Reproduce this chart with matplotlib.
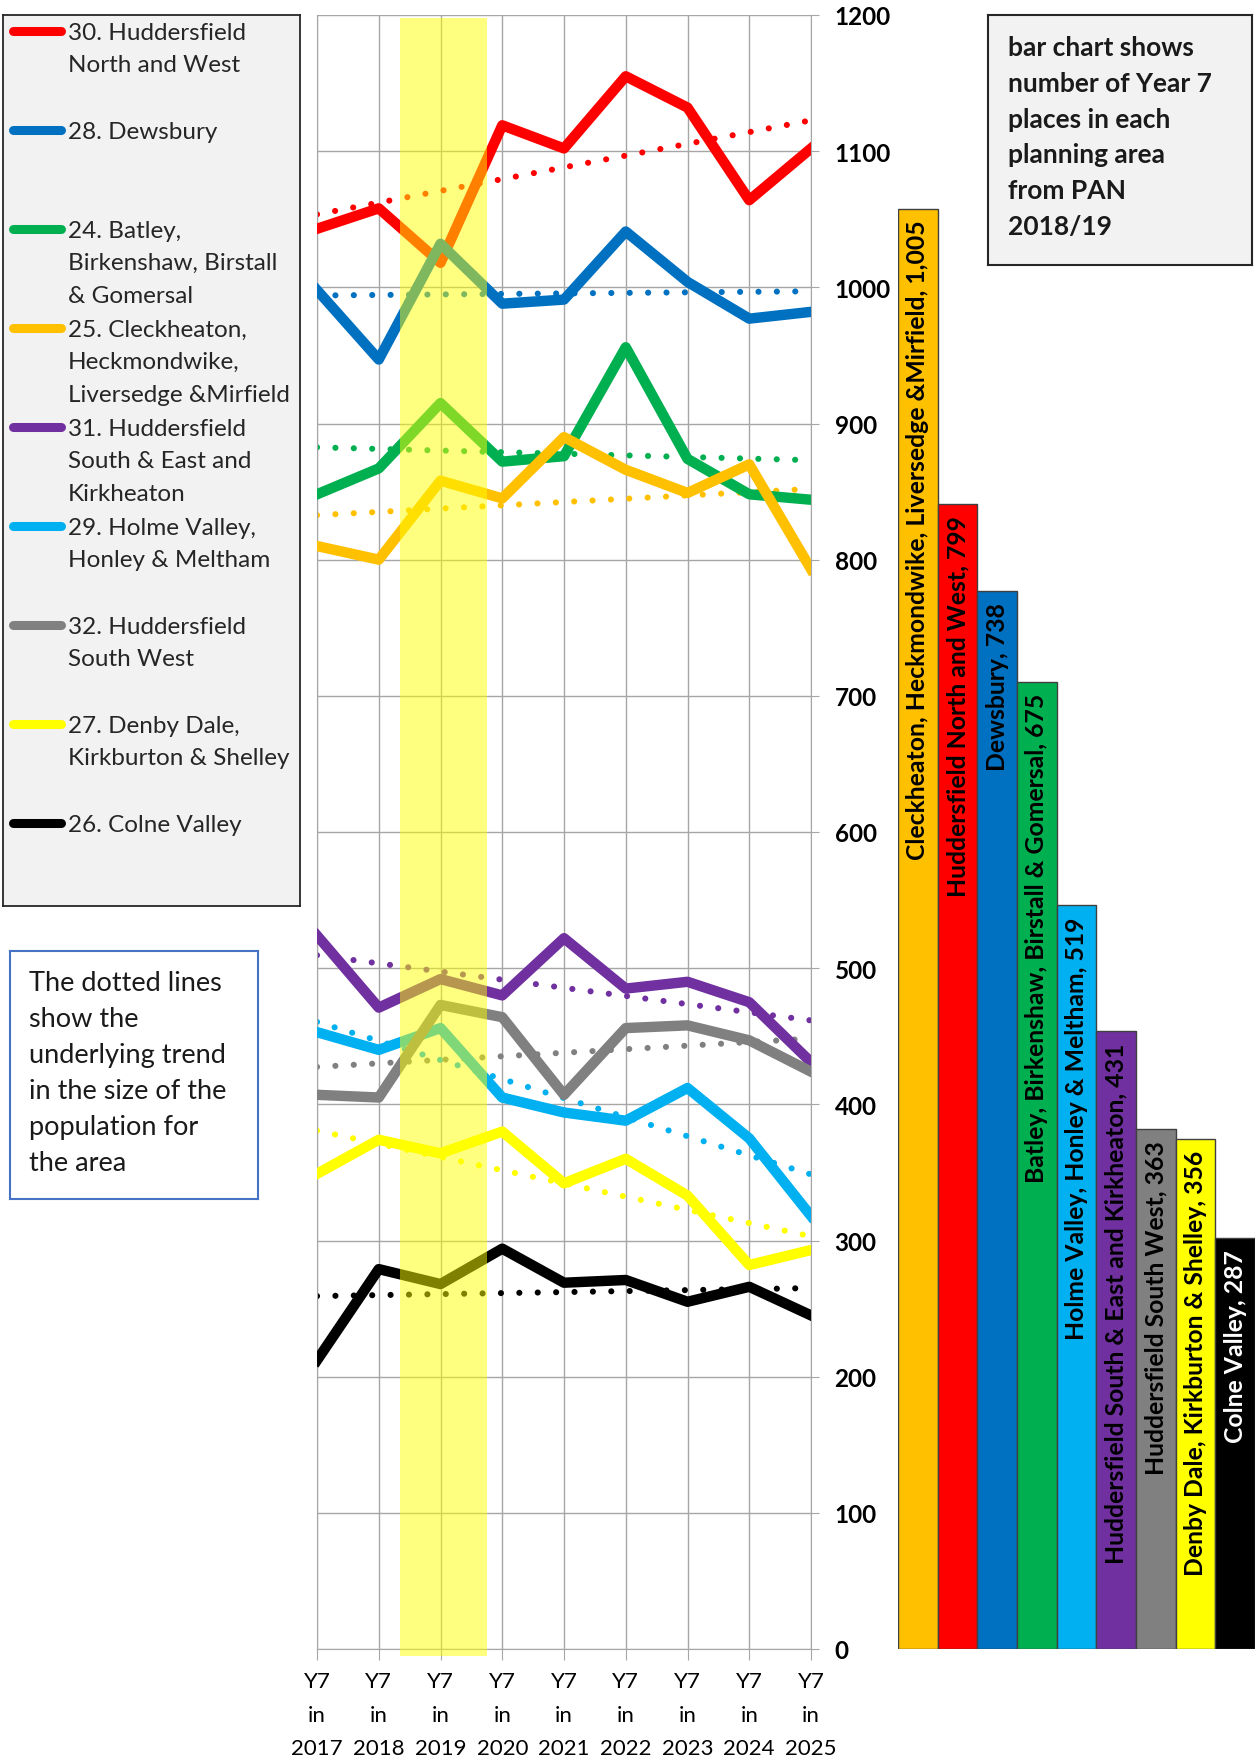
import numpy as np
import matplotlib
matplotlib.use("Agg")
import matplotlib.pyplot as plt
from matplotlib.patches import Rectangle

plt.rcParams['font.family'] = ['Lato', 'DejaVu Sans']

# line chart data (Year 7 population by planning area)
years = [2017, 2018, 2019, 2020, 2021, 2022, 2023, 2024, 2025]
area_labels = [
    "30. Huddersfield\nNorth and West",
    "28. Dewsbury",
    "24. Batley,\nBirkenshaw, Birstall\n& Gomersal",
    "25. Cleckheaton,\nHeckmondwike,\nLiversedge &Mirfield",
    "31. Huddersfield\nSouth & East and\nKirkheaton",
    "29. Holme Valley,\nHonley & Meltham",
    "32. Huddersfield\nSouth West",
    "27. Denby Dale,\nKirkburton & Shelley",
    "26. Colne Valley",
]
area_colors = ['#ff0000', '#0070c0', '#00b050', '#ffc000', '#7030a0',
               '#00b0f0', '#808080', '#ffff00', '#000000']

hud_nw = [1043, 1058, 1018, 1119, 1102, 1155, 1132, 1064, 1102]
dewsbury = [998, 947, 1032, 988, 991, 1041, 1004, 977, 982]
batley = [848, 867, 915, 872, 876, 956, 874, 848, 844]
cleck = [810, 800, 858, 845, 890, 866, 849, 870, 793]
hud_se = [524, 471, 492, 480, 522, 485, 490, 475, 431]
holme = [453, 440, 456, 405, 394, 388, 412, 375, 318]
hud_sw = [407, 405, 473, 464, 407, 456, 458, 447, 424]
denby = [349, 374, 364, 380, 342, 360, 333, 282, 293]
colne = [212, 279, 268, 294, 269, 271, 255, 266, 245]
series = [hud_nw, dewsbury, batley, cleck, hud_se, holme, hud_sw, denby, colne]

# bar chart data (PAN 2018/19 places)
bar_names = ["Cleckheaton, Heckmondwike, Liversedge &Mirfield",
             "Huddersfield North and West", "Dewsbury",
             "Batley, Birkenshaw, Birstall & Gomersal",
             "Holme Valley, Honley & Meltham",
             "Huddersfield South & East and Kirkheaton",
             "Huddersfield South West",
             "Denby Dale, Kirkburton & Shelley", "Colne Valley"]
bar_values = [1005, 799, 738, 675, 519, 431, 363, 356, 287]
bar_colors = ['#ffc000', '#ff0000', '#0070c0', '#00b050', '#00b0f0',
              '#7030a0', '#808080', '#ffff00', '#000000']

W, H = 1257, 1765


def box(x0, y0, x1, y1):
    return [x0 / W, 1 - y1 / H, (x1 - x0) / W, (y1 - y0) / H]


fig = plt.figure(figsize=(W / 100, H / 100), dpi=100)
grid_c = '#a6a6a6'

# --- line chart ---
ax = fig.add_axes(box(317, 16, 811, 1650))
x = np.arange(len(years))
for vals, col in zip(series, area_colors):
    k, b = np.polyfit(x, vals, 1)
    ax.plot(x, k * x + b, color=col, lw=4.4, linestyle=(0, (0.01, 3.0)),
            dash_capstyle='round', zorder=2)
for vals, col in zip(series, area_colors):
    ax.plot(x, vals, color=col, lw=7.5, solid_joinstyle='round', zorder=3)

# highlighted year band
ax.add_patch(Rectangle((1.35, -5), 1.4, 1203, facecolor='#ffff00', alpha=0.5,
                       edgecolor='none', zorder=5, clip_on=False))

ax.set_xlim(0, 8)
ax.set_ylim(0, 1200)
ax.set_yticks(range(0, 1201, 100))
ax.set_xticks(x)
ax.set_xticklabels([f"Y7\nin\n{y}" for y in years], fontsize=16, linespacing=1.85)
ax.yaxis.tick_right()
for lab in ax.get_yticklabels():
    lab.set_fontweight('bold')
    lab.set_fontsize(17.5)
ax.tick_params(axis='y', direction='out', length=6, color=grid_c, pad=11)
ax.tick_params(axis='x', direction='out', length=8, color=grid_c, pad=8)
ax.grid(True, color=grid_c, lw=1)
ax.set_axisbelow(True)
for side in ['left', 'right', 'bottom']:
    ax.spines[side].set_color(grid_c)
ax.spines['top'].set_visible(False)

# --- bar chart ---
bx = fig.add_axes(box(898, 16, 1255, 1650))
bpos = np.arange(len(bar_values))
bx.bar(bpos, bar_values, width=1.0, color=bar_colors, edgecolor='#404040', lw=1)
for i, (name, v) in enumerate(zip(bar_names, bar_values)):
    tc = 'white' if bar_colors[i] == '#000000' else 'black'
    bx.annotate(f"{name}, {v:,}", xy=(i, v), xytext=(0, -8),
                textcoords='offset points', rotation=90, ha='center', va='top',
                fontsize=17.8, fontweight='bold', color=tc)
bx.set_xlim(-0.5, 8.5)
bx.set_ylim(0, 1140)
bx.axis('off')

# --- legend (drawn as its own panel) ---
lg = fig.add_axes(box(3, 16, 300, 907))
lg.set_facecolor('#f2f2f2')
lg.set_xlim(0, 297)
lg.set_ylim(891, 0)
lg.set_xticks([])
lg.set_yticks([])
for s in lg.spines.values():
    s.set_color('#262626')
    s.set_linewidth(1.3)
for k, (lab, col) in enumerate(zip(area_labels, area_colors)):
    yc = 15.5 + 99 * k
    lg.plot([10, 58], [yc, yc], color=col, lw=6.5, solid_capstyle='round')
    for j, line in enumerate(lab.split('\n')):
        lg.text(65, yc + 32.3 * j, line, fontsize=17.5, va='center_baseline',
                ha='left', color='#262626')

# --- note box top right ---
nb = fig.add_axes(box(988, 16, 1252, 266))
nb.set_facecolor('#f2f2f2')
nb.set_xlim(0, 264)
nb.set_ylim(250, 0)
nb.set_xticks([])
nb.set_yticks([])
for s in nb.spines.values():
    s.set_color('#262626')
    s.set_linewidth(1.5)
note = ["bar chart shows", "number of Year 7", "places in each",
        "planning area", "from PAN", "2018/19"]
for j, line in enumerate(note):
    nb.text(20, 30 + 35.8 * j, line, fontsize=19, fontweight='bold',
            va='center_baseline', ha='left', color='#1a1a1a')

# --- dotted lines note ---
db = fig.add_axes(box(10, 952, 258, 1200))
db.set_facecolor('white')
db.set_xlim(0, 248)
db.set_ylim(248, 0)
db.set_xticks([])
db.set_yticks([])
for s in db.spines.values():
    s.set_color('#4472c4')
    s.set_linewidth(1.5)
dnote = ["The dotted lines", "show the", "underlying trend",
         "in the size of the", "population for", "the area"]
for j, line in enumerate(dnote):
    db.text(19, 29 + 36 * j, line, fontsize=19.5, va='center_baseline',
            ha='left', color='#1a1a1a')

fig.savefig('out.png', dpi=100)
